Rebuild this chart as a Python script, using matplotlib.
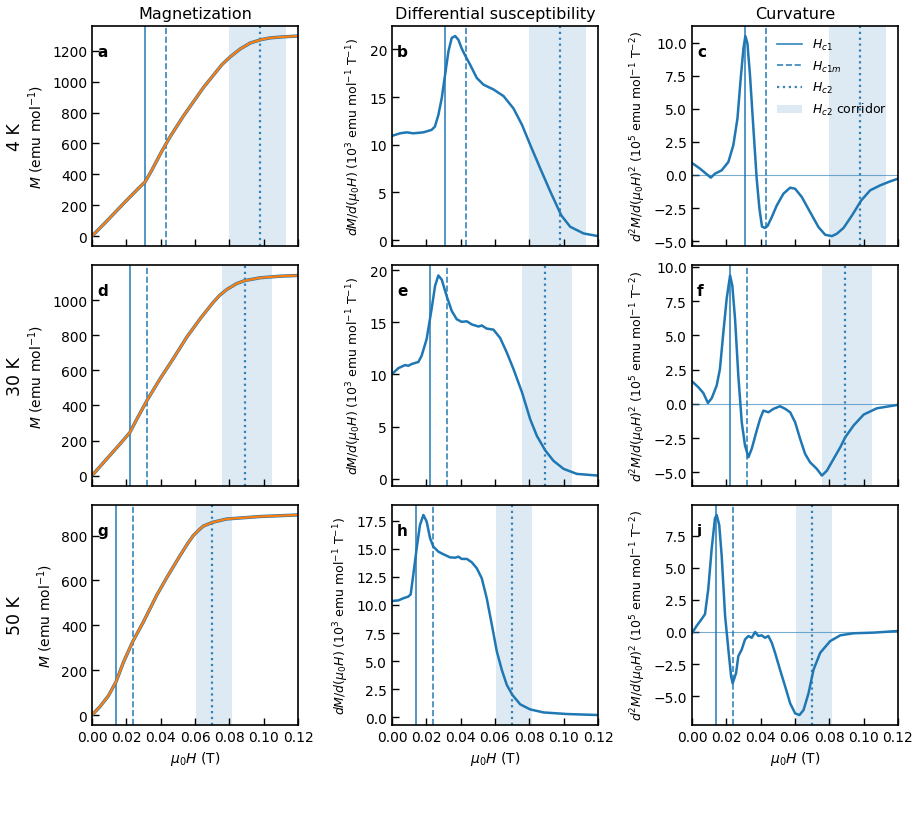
import matplotlib.pyplot as plt
from matplotlib.ticker import MultipleLocator

temps = ["4 K", "30 K", "50 K"]
col_titles = ["Magnetization", "Differential susceptibility", "Curvature"]
panel_letters = [["a", "b", "c"], ["d", "e", "f"], ["g", "h", "i"]]

# characteristic fields (T): Hc1, Hc1m, Hc2 and the Hc2 corridor
hc1 = [0.031, 0.022, 0.014]
hc1m = [0.043, 0.032, 0.0237]
hc2 = [0.098, 0.089, 0.070]
corridor_lo = [0.080, 0.0757, 0.0606]
corridor_hi = [0.113, 0.1047, 0.0814]

# magnetization M (emu/mol)
h_m_4k = [0, 0.0086, 0.0183, 0.026, 0.031, 0.0348, 0.0406, 0.0455, 0.0533, 0.065,
          0.0757, 0.0805, 0.0864, 0.0922, 0.0986, 0.1038, 0.1116, 0.12]
m_4k = [0, 97, 210, 297, 352, 426, 548, 643, 778, 963, 1110, 1160, 1212, 1250, 1272,
        1283, 1290, 1295]
h_m_30k = [0, 0.0086, 0.0163, 0.022, 0.026, 0.0321, 0.0397, 0.0475, 0.0552, 0.063,
           0.0707, 0.0745, 0.0785, 0.0843, 0.0891, 0.0979, 0.1097, 0.12]
m_30k = [0, 95, 180, 245, 320, 430, 553, 670, 790, 895, 990, 1030, 1062, 1096, 1113,
         1129, 1138, 1142]
h_m_50k = [0, 0.0047, 0.0095, 0.014, 0.0183, 0.0237, 0.03, 0.0377, 0.0435, 0.0513,
           0.0555, 0.059, 0.062, 0.0648, 0.0701, 0.0785, 0.0979, 0.12]
m_50k = [0, 38, 85, 148, 235, 327, 416, 534, 612, 711, 762, 800, 823, 842, 859, 874,
         885, 892]

# differential susceptibility dM/dH (1e3 emu/mol/T)
h_d1_4k = [0, 0.0047, 0.0086, 0.0124, 0.0183, 0.0231, 0.025, 0.027, 0.029, 0.0309,
           0.0329, 0.0348, 0.0368, 0.0387, 0.0406, 0.0428, 0.0455, 0.0494, 0.0533,
           0.0591, 0.065, 0.0708, 0.0757, 0.0805, 0.0864, 0.0922, 0.0986, 0.1038,
           0.1116, 0.12]
d1_4k = [10.93, 11.2, 11.3, 11.2, 11.3, 11.56, 11.9, 13.1, 14.9, 17.3, 19.8, 21.2, 21.4,
         21.0, 20.1, 19.3, 18.4, 17.0, 16.3, 15.8, 15.1, 13.8, 12.1, 10.0, 7.5, 5.1,
         2.6, 1.4, 0.7, 0.42]
h_d1_30k = [0, 0.0037, 0.0076, 0.0095, 0.0115, 0.0154, 0.0173, 0.0202, 0.0231, 0.0251,
            0.027, 0.029, 0.0319, 0.0348, 0.0377, 0.0406, 0.0436, 0.0465, 0.0504,
            0.0523, 0.0552, 0.0591, 0.063, 0.0669, 0.0708, 0.0757, 0.0805, 0.0844,
            0.0893, 0.0941, 0.1, 0.1077, 0.12]
d1_30k = [10.03, 10.6, 10.9, 10.83, 11.0, 11.2, 11.8, 13.4, 16.3, 18.5, 19.5, 19.1, 17.5,
          16.1, 15.3, 15.05, 15.1, 14.8, 14.6, 14.7, 14.4, 14.3, 13.5, 12.1, 10.5, 8.3,
          5.7, 4.1, 2.7, 1.7, 0.93, 0.45, 0.29]
h_d1_50k = [0, 0.0037, 0.0066, 0.0095, 0.0109, 0.0124, 0.0144, 0.0163, 0.0183, 0.0202,
            0.0222, 0.0241, 0.027, 0.03, 0.0338, 0.0368, 0.0387, 0.0406, 0.0436, 0.0465,
            0.0494, 0.0523, 0.0552, 0.0582, 0.0611, 0.064, 0.0669, 0.0702, 0.0747,
            0.0805, 0.0883, 0.1019, 0.12]
d1_50k = [10.35, 10.4, 10.59, 10.74, 10.94, 12.66, 15.04, 17.1, 18.0, 17.41, 15.93,
          15.18, 14.74, 14.5, 14.23, 14.2, 14.29, 14.09, 14.09, 13.79, 13.26, 12.37,
          10.59, 8.21, 5.84, 4.21, 2.88, 1.99, 1.16, 0.71, 0.44, 0.3, 0.21]

# curvature d2M/dH2 (1e5 emu/mol/T^2)
h_d2_4k = [0, 0.0047, 0.0082, 0.011, 0.0134, 0.0173, 0.0212, 0.0241, 0.0265, 0.0284,
           0.03, 0.0311, 0.0323, 0.0338, 0.0358, 0.0377, 0.0393, 0.0408, 0.0424, 0.044,
           0.0465, 0.0494, 0.0533, 0.0572, 0.0601, 0.064, 0.0688, 0.0737, 0.0776,
           0.0815, 0.0844, 0.0883, 0.0932, 0.0986, 0.1038, 0.1097, 0.1155, 0.12]
d2_4k = [0.91, 0.48, 0.1, -0.2, 0.1, 0.35, 0.98, 2.25, 4.27, 7.3, 9.57, 10.5, 9.95, 7.55,
         3.5, -0.28, -2.55, -3.9, -4.0, -3.86, -3.18, -2.3, -1.41, -0.96, -1.04, -1.67,
         -2.8, -3.94, -4.52, -4.62, -4.44, -4.0, -3.06, -1.92, -1.16, -0.78, -0.48, -0.28]
h_d2_30k = [0, 0.0037, 0.0066, 0.0093, 0.0115, 0.0144, 0.0163, 0.0183, 0.0202, 0.0222,
            0.0235, 0.0251, 0.027, 0.029, 0.0309, 0.0329, 0.0348, 0.0377, 0.0397, 0.0416,
            0.0445, 0.0475, 0.0513, 0.0543, 0.0572, 0.0601, 0.063, 0.0659, 0.0688,
            0.0727, 0.0757, 0.0786, 0.0825, 0.0864, 0.0893, 0.0941, 0.1, 0.1077, 0.12]
d2_30k = [1.65, 1.22, 0.8, 0.07, 0.41, 1.34, 2.55, 5.23, 7.66, 9.37, 8.64, 6.2, 2.07,
          -1.34, -3.04, -3.89, -3.28, -1.95, -1.09, -0.49, -0.61, -0.36, -0.17, -0.36,
          -0.61, -1.34, -2.55, -3.65, -4.26, -4.74, -5.23, -4.87, -4.01, -3.16, -2.43,
          -1.58, -0.78, -0.32, -0.07]
h_d2_50k = [0, 0.0027, 0.0056, 0.0076, 0.0095, 0.0115, 0.0134, 0.0144, 0.0159, 0.0173,
            0.0193, 0.0212, 0.0228, 0.0237, 0.0257, 0.027, 0.029, 0.0309, 0.0329, 0.0348,
            0.0368, 0.0387, 0.0406, 0.0426, 0.0445, 0.0465, 0.0484, 0.0513, 0.0543,
            0.0572, 0.0601, 0.0626, 0.065, 0.0679, 0.0708, 0.0747, 0.0805, 0.0864,
            0.0941, 0.1058, 0.12]
d2_50k = [-0.1, 0.47, 1.0, 1.39, 3.35, 6.5, 8.86, 9.12, 8.33, 5.97, 1.26, -1.36, -3.46,
          -4.0, -3.2, -1.89, -1.36, -0.58, -0.31, -0.45, 0.0, -0.31, -0.26, -0.45, -0.31,
          -0.84, -1.62, -2.94, -4.25, -5.56, -6.34, -6.47, -6.08, -4.77, -2.94, -1.62,
          -0.71, -0.26, -0.1, -0.05, 0.08]

mag = [(h_m_4k, m_4k), (h_m_30k, m_30k), (h_m_50k, m_50k)]
susc = [(h_d1_4k, d1_4k), (h_d1_30k, d1_30k), (h_d1_50k, d1_50k)]
curv = [(h_d2_4k, d2_4k), (h_d2_30k, d2_30k), (h_d2_50k, d2_50k)]

# major tick step on the y axis of each panel
ytick_steps = [[200, 5, 2.5], [200, 5, 2.5], [200, 2.5, 2.5]]

ylabels = [
    r"$M$ (emu mol$^{-1}$)",
    r"$dM/d(\mu_0H)$ ($10^3$ emu mol$^{-1}$ T$^{-1}$)",
    r"$d^2M/d(\mu_0H)^2$ ($10^5$ emu mol$^{-1}$ T$^{-2}$)",
]

BLUE = "#1f77b4"
ORANGE = "#ff7f0e"


def decorate(ax, row, with_labels=False):
    ax.axvspan(corridor_lo[row], corridor_hi[row], color=BLUE, alpha=0.15, lw=0,
               label=r"$H_{c2}$ corridor" if with_labels else None)
    ax.axvline(hc1[row], color=BLUE, lw=1.2, alpha=0.9,
               label=r"$H_{c1}$" if with_labels else None)
    ax.axvline(hc1m[row], color=BLUE, lw=1.2, ls="--", alpha=0.9,
               label=r"$H_{c1m}$" if with_labels else None)
    ax.axvline(hc2[row], color=BLUE, lw=1.6, ls=":", alpha=0.9,
               label=r"$H_{c2}$" if with_labels else None)


def main() -> None:
    fig, axes = plt.subplots(3, 3, figsize=(9.18, 8.29), dpi=100, sharex=True)
    fig.subplots_adjust(left=0.1002, right=0.9782, top=0.9674, bottom=0.1242,
                        wspace=0.456, hspace=0.088)

    for row in range(3):
        ax_m, ax_d1, ax_d2 = axes[row]
        for ax in axes[row]:
            decorate(ax, row, with_labels=(row == 0 and ax is ax_d2))

        h, m = mag[row]
        ax_m.plot(h, m, color=BLUE, lw=2.4)
        ax_m.plot(h, m, color=ORANGE, lw=1.6)

        h, d = susc[row]
        ax_d1.plot(h, d, color=BLUE, lw=1.8)

        h, d = curv[row]
        ax_d2.axhline(0, color=BLUE, lw=0.8, alpha=0.6)
        ax_d2.plot(h, d, color=BLUE, lw=1.8)

        for col, ax in enumerate(axes[row]):
            ax.set_xlim(0, 0.12)
            ax.set_xticks([0, 0.02, 0.04, 0.06, 0.08, 0.10, 0.12])
            ax.yaxis.set_major_locator(MultipleLocator(ytick_steps[row][col]))
            ax.tick_params(direction="in", length=5, width=1, labelsize=10)
            for spine in ax.spines.values():
                spine.set_linewidth(1.2)
            ax.set_ylabel(ylabels[col], fontsize=10 if col == 0 else 9)
            ax.text(0.025, 0.885, panel_letters[row][col], transform=ax.transAxes,
                    fontsize=11, fontweight="bold", ha="left", va="center")
            if row == 0:
                ax.set_title(col_titles[col], fontsize=11.5, pad=6)
            if row == 2:
                ax.set_xlabel(r"$\mu_0H$ (T)", fontsize=10)
                ax.set_xticklabels([f"{v:.2f}" for v in ax.get_xticks()])

        bbox = ax_m.get_position()
        fig.text(15 / 918, (bbox.y0 + bbox.y1) / 2, temps[row], rotation=90,
                 ha="center", va="center", fontsize=12.5)

    handles, labels = axes[0][2].get_legend_handles_labels()
    order = [labels.index(r"$H_{c1}$"), labels.index(r"$H_{c1m}$"),
             labels.index(r"$H_{c2}$"), labels.index(r"$H_{c2}$ corridor")]
    axes[0][2].legend([handles[i] for i in order], [labels[i] for i in order],
                      loc="upper right", frameon=False, fontsize=9)

    fig.savefig("out.png", dpi=100)


if __name__ == "__main__":
    main()
